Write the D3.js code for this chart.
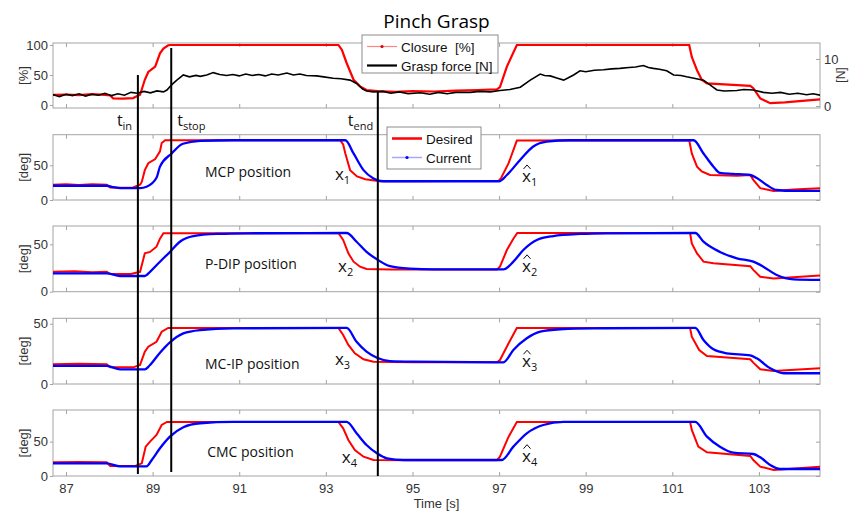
<!DOCTYPE html>
<html>
<head>
<meta charset="utf-8">
<script src="https://cdn.jsdelivr.net/npm/d3@7"></script>
<style>
body { margin: 0; background: #fff; }
svg { display: block; }
.tick text { font-family: "Liberation Sans", Arial, sans-serif; font-size: 13px; fill: #333; }
.lab { font-family: "Liberation Sans", Arial, sans-serif; font-size: 13px; fill: #333; }
.ann { font-family: "Open Sans", "Noto Sans", sans-serif; fill: #111; }
</style>
</head>
<body>
<div id="chart"></div>
<script>
///////////////////////////////////////////////////////////////////////////
//////////////////////////// data /////////////////////////////////////////
///////////////////////////////////////////////////////////////////////////

// time [s], value
const timeTicks = [87, 89, 91, 93, 95, 97, 99, 101, 103];

const closure = [
	[86.7, 17], [87.0, 17.5], [87.3, 16.5], [87.6, 18], [87.9, 17], [88.02, 16], [88.09, 11],
	[88.3, 10.5], [88.55, 11.5], [88.71, 17], [88.82, 42], [88.9, 55], [89.06, 64], [89.17, 86],
	[89.25, 94], [89.36, 99.5], [89.4, 100], [93.29, 100], [93.37, 92], [93.48, 70], [93.64, 42],
	[93.79, 31], [93.94, 25], [94.2, 23], [94.6, 22], [95.0, 23], [95.5, 22.5], [96.0, 24],
	[96.5, 25], [96.95, 26], [97.02, 30], [97.18, 64], [97.41, 100], [101.39, 100], [101.45, 80],
	[101.57, 58], [101.68, 42], [101.8, 36], [102.3, 34], [102.8, 32], [102.87, 28], [103.03, 11],
	[103.26, 3], [103.6, 4.5], [104.0, 7], [104.41, 9.5]
];

const graspForce = [
	[86.7, 2.4], [86.85, 2.0], [87.0, 2.5], [87.15, 2.2], [87.3, 2.6], [87.45, 2.1], [87.6, 2.5],
	[87.75, 2.3], [87.9, 2.7], [88.05, 2.2], [88.2, 2.6], [88.35, 2.3], [88.5, 2.9], [88.65, 2.7],
	[88.8, 3.1], [88.95, 2.8], [89.1, 3.2], [89.25, 3.0], [89.33, 3.4], [89.45, 4.6], [89.56, 5.5],
	[89.71, 6.6], [89.85, 6.2], [90.0, 6.5], [90.1, 6.3], [90.25, 6.6], [90.4, 7.1], [90.55, 6.7],
	[90.71, 6.5], [90.85, 6.7], [91.0, 6.4], [91.15, 6.8], [91.3, 6.5], [91.45, 6.7], [91.6, 6.4],
	[91.75, 6.8], [91.9, 6.6], [92.1, 7.0], [92.25, 6.6], [92.4, 6.8], [92.55, 6.5], [92.79, 6.4],
	[92.95, 6.2], [93.17, 5.9], [93.35, 5.8], [93.56, 5.5], [93.71, 4.8], [93.85, 3.6], [93.94, 3.2],
	[94.1, 3.0], [94.32, 3.1], [94.5, 2.7], [94.7, 3.0], [94.9, 2.6], [95.18, 2.8], [95.4, 2.5],
	[95.6, 2.9], [95.8, 2.6], [96.0, 2.9], [96.33, 2.9], [96.55, 3.1], [96.8, 3.0], [97.02, 3.3],
	[97.25, 3.5], [97.49, 4.0], [97.72, 5.5], [97.95, 6.8], [98.05, 6.5], [98.18, 6.4], [98.35, 5.9],
	[98.49, 5.5], [98.6, 6.0], [98.72, 6.6], [98.87, 7.5], [99.0, 7.3], [99.2, 7.6], [99.41, 7.7],
	[99.6, 7.9], [99.79, 8.0], [100.0, 8.2], [100.15, 8.3], [100.33, 8.6], [100.45, 8.2], [100.56, 8.0],
	[100.7, 7.8], [100.87, 7.5], [101.03, 6.6], [101.2, 6.5], [101.33, 6.2], [101.5, 5.9], [101.72, 5.5],
	[101.87, 4.5], [102.03, 3.4], [102.2, 3.2], [102.49, 3.3], [102.65, 3.5], [102.87, 3.4], [103.1, 2.9],
	[103.3, 2.7], [103.5, 2.9], [103.7, 2.5], [103.9, 2.7], [104.1, 2.4], [104.25, 2.6], [104.41, 2.3]
];

const mcpDesired = [
	[86.7, 22], [87.0, 22.5], [87.3, 21.5], [87.6, 22.5], [87.94, 22], [88.02, 18], [88.3, 17.5],
	[88.55, 18], [88.71, 22], [88.75, 26], [88.82, 43], [88.9, 53], [89.06, 59], [89.17, 70],
	[89.21, 82], [89.29, 86], [93.33, 86], [93.4, 80], [93.45, 67], [93.56, 43], [93.72, 34],
	[93.91, 30], [94.25, 27], [95, 27], [96, 27.5], [96.99, 27.5], [97.05, 32], [97.22, 53],
	[97.41, 85.6], [101.39, 86], [101.45, 67], [101.57, 48], [101.68, 41], [101.87, 36], [102.5, 35],
	[102.8, 36], [102.87, 29], [103.03, 17], [103.34, 13], [103.8, 15], [104.41, 17]
];
const mcpCurrent = [
	[86.7, 20.5], [87.94, 20.5], [88.1, 18.5], [88.25, 17.2], [88.71, 17], [88.86, 19], [89.09, 32],
	[89.17, 48], [89.44, 67], [89.7, 81], [90.1, 85], [90.86, 86], [93.45, 86], [93.64, 67],
	[93.87, 43], [94.1, 31], [94.32, 27], [97.0, 27], [97.18, 36], [97.49, 58], [97.79, 77],
	[98.1, 84], [98.64, 86], [101.49, 86], [101.72, 67], [101.95, 48], [102.1, 39], [102.4, 37.6],
	[102.8, 36], [102.95, 31.7], [103.18, 21.6], [103.41, 14.4], [103.8, 13], [104.41, 13]
];

const pdipDesired = [
	[86.7, 21], [87.2, 21.5], [87.6, 20.5], [87.94, 21], [88.02, 18.7], [88.5, 18.7], [88.71, 21],
	[88.82, 40.5], [88.94, 42], [89.09, 47.5], [89.17, 56], [89.25, 61.7], [93.29, 62], [93.4, 54.6],
	[93.52, 40.5], [93.64, 31.7], [93.79, 26.4], [93.94, 24], [94.5, 23.5], [95.5, 23.5], [96.95, 23.5],
	[97.02, 26.4], [97.18, 44], [97.33, 56], [97.42, 62], [101.41, 62], [101.45, 51], [101.57, 40.5],
	[101.72, 31.7], [101.95, 30], [102.8, 27], [102.87, 23], [103.03, 15.8], [103.34, 14], [104.41, 17]
];
const pdipCurrent = [
	[86.7, 19.4], [87.94, 19.4], [88.25, 16.6], [88.82, 16.6], [88.94, 21], [89.17, 31.7], [89.4, 42],
	[89.63, 52.8], [89.94, 58.8], [90.48, 61], [91.2, 61.7], [93.48, 62], [93.71, 52.8], [93.94, 42],
	[94.18, 34.2], [94.48, 27], [94.94, 24.3], [95.5, 23.5], [97.1, 23.5], [97.33, 31.7], [97.56, 44],
	[97.87, 54.6], [98.25, 58.8], [98.87, 61], [99.5, 61.7], [101.53, 62], [101.72, 52.8], [102.1, 42],
	[102.49, 35.3], [102.87, 31.7], [103.1, 26.4], [103.41, 17.6], [103.8, 13], [104.41, 12.4]
];

const mcipDesired = [
	[86.7, 16.3], [87.3, 16.8], [87.94, 16.3], [88.02, 13.8], [88.55, 13.8], [88.71, 15.8], [88.82, 26.8],
	[88.9, 31], [89.09, 35], [89.21, 43.4], [89.36, 46.5], [93.29, 46.5], [93.4, 40.7], [93.52, 32.4],
	[93.67, 25.5], [93.87, 20.5], [94.1, 18.5], [95, 18], [96.95, 18], [97.02, 19.9], [97.22, 33.8],
	[97.41, 46.5], [101.41, 46.5], [101.45, 39.3], [101.62, 28.2], [101.8, 23.2], [102.8, 20.5],
	[102.87, 17.7], [103.03, 12.2], [103.34, 10.8], [104.41, 13]
];
const mcipCurrent = [
	[86.7, 15], [87.94, 15], [88.25, 12.2], [88.82, 12.2], [88.94, 15.8], [89.17, 26], [89.4, 34.6],
	[89.71, 42], [90.1, 44.8], [90.86, 46.2], [93.48, 46.5], [93.71, 35], [93.94, 26.8], [94.18, 21.8],
	[94.48, 19], [95.0, 18.5], [97.1, 18], [97.33, 28.2], [97.64, 37.9], [97.95, 43.4], [98.41, 45.4],
	[99.2, 46.2], [101.53, 46.5], [101.72, 36.5], [101.95, 28.8], [102.26, 25.5], [102.8, 23.8],
	[102.95, 21.3], [103.26, 13], [103.57, 8.9], [104.41, 8.9]
];

const cmcDesired = [
	[86.7, 19.9], [87.3, 20.5], [87.94, 19.9], [88.02, 14.6], [88.6, 14.6], [88.75, 18.4], [88.84, 42.7],
	[88.94, 50], [89.09, 59.7], [89.21, 74.2], [89.33, 78.6], [93.29, 78.6], [93.4, 69.4], [93.52, 52.4],
	[93.67, 37.8], [93.87, 28.1], [94.1, 23.3], [95, 23], [96.95, 23], [97.02, 28.1], [97.22, 57.2],
	[97.41, 78.6], [101.41, 78.6], [101.45, 67], [101.6, 42.7], [101.8, 34.5], [102.8, 29.1],
	[102.87, 23.3], [103.03, 13.6], [103.34, 8.7], [104.41, 13.6]
];
const cmcCurrent = [
	[86.7, 18.4], [87.94, 18.4], [88.25, 14.1], [88.86, 14.1], [88.98, 23.3], [89.17, 40.3], [89.4, 57.2],
	[89.71, 70.9], [90.1, 76.7], [90.86, 78.6], [93.48, 78.6], [93.71, 62.1], [93.94, 45.1], [94.18, 33],
	[94.41, 25.7], [94.8, 23.3], [97.06, 23.3], [97.33, 42.7], [97.64, 62.1], [98.02, 74.2], [98.49, 78.6],
	[101.53, 78.6], [101.8, 57.2], [102.1, 42.7], [102.41, 33.9], [102.87, 32], [103.03, 27.2],
	[103.26, 16], [103.49, 10.2], [104.41, 10.2]
];

// event markers: time, top end (closure %), bottom end (CMC deg)
const eventNames = ["in", "stop", "end"];
const eventTimes = [88.66, 89.43, 94.2];
const eventTop = [50, 95, 21.7];
const eventBottom = [3, 6, 0];

const jointNames = ["MCP position", "P-DIP position", "MC-IP position", "CMC position"];

///////////////////////////////////////////////////////////////////////////
//////////////////////////// Set up svg ///////////////////////////////////
///////////////////////////////////////////////////////////////////////////

const width = 850;
const height = 511;
const plotLeft = 53, plotRight = 820;

const svg = d3.select("#chart").append("svg")
	.attr("width", width)
	.attr("height", height);

const xScale = d3.scaleLinear().domain([86.7, 104.41]).range([plotLeft, plotRight]);

// panel layout (pixel boxes) and y domains
const panels = [
	{ top: 43, bottom: 108, domain: [-5, 103.3], ticks: [0, 50, 100], label: "[%]" },
	{ top: 134.7, bottom: 200, domain: [0, 94], ticks: [0, 50], label: "[deg]", desired: mcpDesired, current: mcpCurrent,
		name: [90.21, 33.2], xl: [93.21, 29], xh: [97.53, 26] },
	{ top: 226, bottom: 291.7, domain: [0, 69.4], ticks: [0, 50], label: "[deg]", desired: pdipDesired, current: pdipCurrent,
		name: [90.21, 24], xl: [93.28, 20.8], xh: [97.53, 21] },
	{ top: 318.3, bottom: 384, domain: [0, 54.5], ticks: [0, 50], label: "[deg]", desired: mcipDesired, current: mcipCurrent,
		name: [90.21, 12.4], xl: [93.21, 15.8], xh: [97.53, 13.9] },
	{ top: 410, bottom: 476, domain: [0, 96], ticks: [0, 50], label: "[deg]", desired: cmcDesired, current: cmcCurrent,
		name: [90.26, 27.7], xl: [93.37, 18.5], xh: [97.53, 20.8] }
];
panels.forEach((p) => {
	p.y = d3.scaleLinear().domain(p.domain).range([p.bottom, p.top]);
});

const forceScale = d3.scaleLinear().domain([-0.43, 13.4]).range([108, 43]);

///////////////////////////////////////////////////////////////////////////
//////////////////////////// axes + curves ////////////////////////////////
///////////////////////////////////////////////////////////////////////////

const boxColor = "#a3a3a3";

panels.forEach((p, i) => {
	const g = svg.append("g");
	const last = i === panels.length - 1;

	g.append("clipPath").attr("id", "clip" + i)
		.append("rect")
		.attr("x", plotLeft).attr("y", p.top)
		.attr("width", plotRight - plotLeft).attr("height", p.bottom - p.top);

	g.append("rect")
		.attr("x", plotLeft).attr("y", p.top)
		.attr("width", plotRight - plotLeft).attr("height", p.bottom - p.top)
		.attr("fill", "#fff").attr("stroke", boxColor);

	const xb = g.append("g").attr("transform", `translate(0,${p.bottom})`)
		.call(d3.axisBottom(xScale).tickValues(timeTicks).tickSizeInner(-4).tickSizeOuter(0)
			.tickPadding(8).tickFormat(last ? d3.format("d") : ""));
	const xt = g.append("g").attr("transform", `translate(0,${p.top})`)
		.call(d3.axisTop(xScale).tickValues(timeTicks).tickSizeInner(-4).tickSizeOuter(0).tickFormat(""));
	const yl = g.append("g").attr("transform", `translate(${plotLeft},0)`)
		.call(d3.axisLeft(p.y).tickValues(p.ticks).tickSizeInner(3).tickSizeOuter(0).tickPadding(2));
	[xb, xt, yl].forEach((a) => {
		a.select(".domain").remove();
		a.selectAll("line").attr("stroke", boxColor);
	});

	if (i === 0) {
		const yr = g.append("g").attr("transform", `translate(${plotRight},0)`)
			.call(d3.axisRight(forceScale).tickValues([0, 10]).tickSizeInner(-4).tickSizeOuter(0).tickPadding(4));
		yr.select(".domain").remove();
		yr.selectAll("line").attr("stroke", boxColor);
	} else {
		const yr = g.append("g").attr("transform", `translate(${plotRight},0)`)
			.call(d3.axisRight(p.y).tickValues(p.ticks).tickSizeInner(-4).tickSizeOuter(0).tickFormat(""));
		yr.select(".domain").remove();
		yr.selectAll("line").attr("stroke", boxColor);
	}

	// y label
	g.append("text").attr("class", "lab")
		.attr("transform", `translate(28,${(p.top + p.bottom) / 2}) rotate(-90)`)
		.attr("text-anchor", "middle")
		.text(p.label);

	const plot = g.append("g").attr("clip-path", `url(#clip${i})`);

	if (i === 0) {
		plot.append("path").datum(closure)
			.attr("fill", "none").attr("stroke", "#ff0000").attr("stroke-width", 2.2)
			.attr("d", d3.line().x((d) => xScale(d[0])).y((d) => p.y(d[1])));
		plot.append("path").datum(graspForce)
			.attr("fill", "none").attr("stroke", "#000").attr("stroke-width", 1.6)
			.attr("d", d3.line().x((d) => xScale(d[0])).y((d) => forceScale(d[1])));
	} else {
		plot.append("path").datum(p.desired)
			.attr("fill", "none").attr("stroke", "#ff0000").attr("stroke-width", 2)
			.attr("d", d3.line().x((d) => xScale(d[0])).y((d) => p.y(d[1])));
		plot.append("path").datum(p.current)
			.attr("fill", "none").attr("stroke", "#0000ff").attr("stroke-width", 2.3)
			.attr("d", d3.line().curve(d3.curveMonotoneX).x((d) => xScale(d[0])).y((d) => p.y(d[1])));

		// joint name
		g.append("text").attr("class", "ann")
			.attr("x", xScale(p.name[0])).attr("y", p.y(p.name[1]))
			.style("font-size", "14px")
			.text(jointNames[i - 1]);

		// x_i and x-hat_i
		const xl = g.append("text").attr("class", "ann")
			.attr("x", xScale(p.xl[0])).attr("y", p.y(p.xl[1]))
			.style("font-size", "17px").text("x");
		xl.append("tspan").attr("dy", 4).style("font-size", "11px").text(i);

		const hx = xScale(p.xh[0]), hy = p.y(p.xh[1]);
		const xh = g.append("text").attr("class", "ann")
			.attr("x", hx).attr("y", hy)
			.style("font-size", "17px").text("x");
		xh.append("tspan").attr("dy", 4).style("font-size", "11px").text(i);
		// the hat
		g.append("path")
			.attr("d", `M${hx + 1.5},${hy - 13} L${hx + 5},${hy - 17} L${hx + 8.5},${hy - 13}`)
			.attr("fill", "none").attr("stroke", "#111").attr("stroke-width", 1);
	}
});

///////////////////////////////////////////////////////////////////////////
//////////////////////////// event lines //////////////////////////////////
///////////////////////////////////////////////////////////////////////////

const topPanel = panels[0], botPanel = panels[panels.length - 1];
const labelShift = [-21, 6, -30];

eventTimes.forEach((t, i) => {
	svg.append("line")
		.attr("x1", xScale(t)).attr("x2", xScale(t))
		.attr("y1", topPanel.y(eventTop[i])).attr("y2", botPanel.y(eventBottom[i]))
		.attr("stroke", "#000").attr("stroke-width", 2);
	const lt = svg.append("text").attr("class", "ann")
		.attr("x", xScale(t) + labelShift[i]).attr("y", 126)
		.style("font-size", "16px").text("t");
	lt.append("tspan").attr("dy", 4).style("font-size", "11px").text(eventNames[i]);
});

///////////////////////////////////////////////////////////////////////////
//////////////////////////// legends //////////////////////////////////////
///////////////////////////////////////////////////////////////////////////

function legend(x0, y0, w, h, items) {
	const lg = svg.append("g").attr("transform", `translate(${x0},${y0})`);
	lg.append("rect").attr("width", w).attr("height", h)
		.attr("fill", "#fff").attr("stroke", "#8c8c8c");
	items.forEach((it, i) => {
		const yy = 11.5 + i * 19;
		lg.append("line").attr("x1", 5).attr("x2", 35).attr("y1", yy).attr("y2", yy)
			.attr("stroke", it.color).attr("stroke-width", it.width);
		if (it.dot) {
			lg.append("circle").attr("cx", 20).attr("cy", yy).attr("r", 1.6).attr("fill", it.dot);
		}
		lg.append("text").attr("class", "lab")
			.attr("x", 39).attr("y", yy + 5)
			.style("font-size", "13.5px").style("fill", "#111").style("white-space", "pre")
			.text(it.label);
	});
}

legend(362, 35, 136, 38, [
	{ label: "Closure  [%]", color: "#ff8585", width: 1.2, dot: "#e00000" },
	{ label: "Grasp force [N]", color: "#000", width: 2.2 }
]);
legend(387, 127, 94, 42, [
	{ label: "Desired", color: "#ff0000", width: 2.5 },
	{ label: "Current", color: "#a6a6ff", width: 1.5, dot: "#0000ff" }
]);

///////////////////////////////////////////////////////////////////////////
//////////////////////////// titles ///////////////////////////////////////
///////////////////////////////////////////////////////////////////////////

svg.append("text").attr("class", "ann")
	.attr("x", (plotLeft + plotRight) / 2).attr("y", 28)
	.attr("text-anchor", "middle")
	.style("font-size", "19px").style("fill", "#000")
	.text("Pinch Grasp");

svg.append("text").attr("class", "lab")
	.attr("x", (plotLeft + plotRight) / 2).attr("y", 508)
	.attr("text-anchor", "middle")
	.text("Time [s]");

svg.append("text").attr("class", "lab")
	.attr("transform", `translate(845,75) rotate(-90)`)
	.attr("text-anchor", "middle")
	.style("font-size", "12px")
	.text("[N]");
</script>
</body>
</html>
